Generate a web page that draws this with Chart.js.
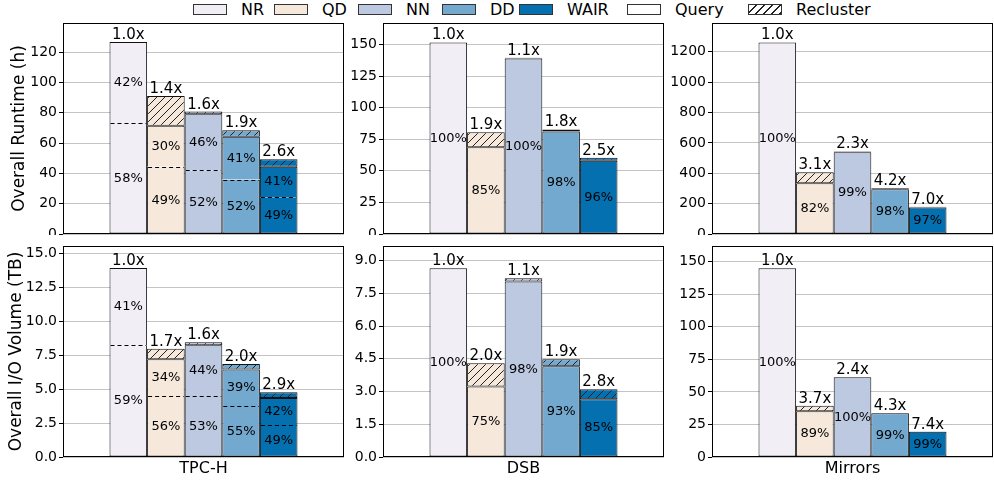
<!DOCTYPE html>
<html>
<head>
<meta charset="utf-8">
<script src="https://cdn.jsdelivr.net/npm/chart.js@4.4.1/dist/chart.umd.min.js"></script>
<style>
  body { margin: 0; background: #fff; font-family: 'DejaVu Sans', sans-serif; }
  #wrap { position: relative; width: 994px; height: 483px; overflow: hidden; }
  #wrap canvas { position: absolute; }
  .lg-box { position: absolute; top: 4px; width: 34px; height: 11px; box-sizing: border-box; border: 1px solid #333; }
  .lg-txt { position: absolute; top: 0; font-size: 16px; line-height: 20px; color: #000; white-space: nowrap; }
</style>
</head>
<body>
<div id="wrap"></div>
<script>
const methods = ['NR', 'QD', 'NN', 'DD', 'WAIR'];
const colors = ['#f1eef6', '#f6e9dc', '#bdc9e1', '#74a9cf', '#0570b0'];
const workloads = ['TPC-H', 'DSB', 'Mirrors'];
const rowTitles = ['Overall Runtime (h)', 'Overall I/O Volume (TB)'];

// runtime (h) - TPC-H query is split in two parts (dashed line)
const rtTpchQ1 = [73.3, 44.3, 42.0, 35.9, 24.2];
const rtTpchQ2 = [53.3, 27.1, 37.0, 28.2, 20.2];
const rtTpchRe = [0, 19.6, 1.8, 4.4, 4.9];
const rtTpchP1 = ['58%', '49%', '52%', '52%', '49%'];
const rtTpchP2 = ['42%', '30%', '46%', '41%', '41%'];
const rtTpchSp = ['1.0x', '1.4x', '1.6x', '1.9x', '2.6x'];

const rtDsbQ = [151.6, 68.7, 139.0, 81.2, 57.9];
const rtDsbRe = [0, 11.9, 0.5, 1.6, 2.4];
const rtDsbP = ['100%', '85%', '100%', '98%', '96%'];
const rtDsbSp = ['1.0x', '1.9x', '1.1x', '1.8x', '2.5x'];

const rtMirQ = [1262, 334, 539, 295, 175];
const rtMirRe = [0, 73, 5, 6, 5];
const rtMirP = ['100%', '82%', '99%', '98%', '97%'];
const rtMirSp = ['1.0x', '3.1x', '2.3x', '4.2x', '7.0x'];

// I/O volume (TB)
const ioTpchQ1 = [8.24, 4.49, 4.49, 3.75, 2.35];
const ioTpchQ2 = [5.68, 2.72, 3.75, 2.70, 2.00];
const ioTpchRe = [0, 0.76, 0.22, 0.41, 0.43];
const ioTpchP1 = ['59%', '56%', '53%', '55%', '49%'];
const ioTpchP2 = ['41%', '34%', '44%', '39%', '42%'];
const ioTpchSp = ['1.0x', '1.7x', '1.6x', '2.0x', '2.9x'];

const ioDsbQ = [8.65, 3.23, 8.04, 4.16, 2.65];
const ioDsbRe = [0, 1.07, 0.15, 0.32, 0.46];
const ioDsbP = ['100%', '75%', '98%', '93%', '85%'];
const ioDsbSp = ['1.0x', '2.0x', '1.1x', '1.9x', '2.8x'];

const ioMirQ = [144.9, 35.2, 61.2, 33.5, 19.3];
const ioMirRe = [0, 4.2, 0.1, 0.3, 0.2];
const ioMirP = ['100%', '89%', '100%', '99%', '99%'];
const ioMirSp = ['1.0x', '3.7x', '2.4x', '4.3x', '7.4x'];

// axis limits / ticks per panel
const yMax = [139.2, 167, 1390, 15.55, 9.67, 162];
const yStep = [20, 25, 200, 2.5, 1.5, 25];
const yDec = [0, 0, 0, 1, 1, 0];

const panels = [
  {row: 0, col: 0, q1: rtTpchQ1, q2: rtTpchQ2, re: rtTpchRe, p1: rtTpchP1, p2: rtTpchP2, sp: rtTpchSp},
  {row: 0, col: 1, q1: rtDsbQ, q2: null, re: rtDsbRe, p1: rtDsbP, p2: null, sp: rtDsbSp},
  {row: 0, col: 2, q1: rtMirQ, q2: null, re: rtMirRe, p1: rtMirP, p2: null, sp: rtMirSp},
  {row: 1, col: 0, q1: ioTpchQ1, q2: ioTpchQ2, re: ioTpchRe, p1: ioTpchP1, p2: ioTpchP2, sp: ioTpchSp},
  {row: 1, col: 1, q1: ioDsbQ, q2: null, re: ioDsbRe, p1: ioDsbP, p2: null, sp: ioDsbSp},
  {row: 1, col: 2, q1: ioMirQ, q2: null, re: ioMirRe, p1: ioMirP, p2: null, sp: ioMirSp},
];

const colLeft = [63, 383, 712];
const rowTop = [23, 246];
const plotW = 281, plotH = 211;
const edge = '#111';

Chart.defaults.font.family = "'DejaVu Sans', sans-serif";
Chart.defaults.color = '#000';

function hatch(color) {
  const c = document.createElement('canvas');
  c.width = 8; c.height = 8;
  const g = c.getContext('2d');
  g.fillStyle = color;
  g.fillRect(0, 0, 8, 8);
  g.strokeStyle = '#222';
  g.lineWidth = 1;
  g.beginPath();
  g.moveTo(0, 8); g.lineTo(8, 0);
  g.moveTo(-4, 4); g.lineTo(4, -4);
  g.moveTo(4, 12); g.lineTo(12, 4);
  g.stroke();
  return g.createPattern(c, 'repeat');
}

// legend
const wrap = document.getElementById('wrap');
const lgBox = [193, 274, 358, 442, 519, 627, 748];
const lgText = methods.concat(['Query', 'Recluster']);
lgText.forEach((t, i) => {
  const b = document.createElement('div');
  b.className = 'lg-box';
  b.style.left = lgBox[i] + 'px';
  if (i < 5) b.style.background = colors[i];
  else if (i === 5) b.style.background = '#fff';
  else b.style.background = 'repeating-linear-gradient(135deg, #fff 0 4.6px, #222 4.6px 5.66px)';
  wrap.appendChild(b);
  const s = document.createElement('div');
  s.className = 'lg-txt';
  s.style.left = (lgBox[i] + 48) + 'px';
  s.textContent = t;
  wrap.appendChild(s);
});

function labelPlugin(p, idx) {
  return {
    id: 'barText',
    afterDatasetsDraw(chart) {
      const ctx = chart.ctx, y = chart.scales.y;
      ctx.save();
      methods.forEach((m, i) => {
        const bar = chart.getDatasetMeta(idx[i]).data[0];
        const x0 = bar.x - bar.width / 2, x1 = bar.x + bar.width / 2;
        const q1 = p.q1[i], q2 = p.q2 ? p.q2[i] : 0, re = p.re[i] || 0;
        if (p.q2) {
          ctx.setLineDash([4, 3]);
          ctx.strokeStyle = '#000';
          ctx.lineWidth = 1;
          const yy = Math.round(y.getPixelForValue(q1)) + 0.5;
          ctx.beginPath(); ctx.moveTo(x0 + 1, yy); ctx.lineTo(x1 - 1, yy); ctx.stroke();
          ctx.setLineDash([]);
        }
        ctx.fillStyle = '#000';
        ctx.textAlign = 'center';
        ctx.textBaseline = 'middle';
        ctx.font = "13px 'DejaVu Sans'";
        ctx.fillText(p.p1[i], bar.x, y.getPixelForValue(q1 / 2));
        if (p.q2) ctx.fillText(p.p2[i], bar.x, y.getPixelForValue(q1 + q2 / 2));
        ctx.font = "15px 'DejaVu Sans'";
        ctx.textBaseline = 'alphabetic';
        ctx.fillText(p.sp[i], bar.x, y.getPixelForValue(q1 + q2 + re) - 3);
      });
      ctx.restore();
    },
    afterDraw(chart) {
      const a = chart.chartArea, ctx = chart.ctx;
      ctx.save();
      ctx.strokeStyle = '#000';
      ctx.lineWidth = 1;
      ctx.strokeRect(a.left + 0.5, a.top + 0.5, a.right - a.left - 1, a.bottom - a.top - 1);
      ctx.restore();
    }
  };
}

panels.forEach((p, k) => {
  const yw = p.col === 0 ? 63 : 50;
  const xh = p.row === 1 ? 26 : 1;
  const cv = document.createElement('canvas');
  cv.width = yw + plotW + 1;
  cv.height = 1 + plotH + xh;
  cv.style.left = (colLeft[p.col] - yw) + 'px';
  cv.style.top = (rowTop[p.row] - 1) + 'px';
  wrap.appendChild(cv);

  const datasets = [];
  const idx = [];
  methods.forEach((m, i) => {
    idx.push(datasets.length);
    datasets.push({
      label: m + ' query', data: [p.q1[i]], stack: m,
      backgroundColor: colors[i], borderColor: edge, borderSkipped: false,
      borderWidth: p.q2 ? {top: 0, left: 1, right: 1, bottom: 1} : 1
    });
    if (p.q2) {
      datasets.push({
        label: m + ' query 2', data: [p.q2[i]], stack: m,
        backgroundColor: colors[i], borderColor: edge, borderSkipped: false,
        borderWidth: {top: 1, left: 1, right: 1, bottom: 0}
      });
    }
    datasets.push({
      label: m + ' recluster', data: [p.re[i] || null], stack: m,
      backgroundColor: hatch(colors[i]), borderColor: edge, borderSkipped: false,
      borderWidth: 1
    });
  });

  new Chart(cv, {
    type: 'bar',
    data: {labels: [workloads[p.col]], datasets},
    options: {
      responsive: false,
      animation: false,
      events: [],
      layout: {padding: {top: 1, right: 1, left: 0, bottom: 0}},
      datasets: {bar: {categoryPercentage: 0.669, barPercentage: 1.0}},
      plugins: {legend: {display: false}, tooltip: {enabled: false}},
      scales: {
        x: {
          stacked: true,
          ticks: {display: p.row === 1, font: {size: 16}, color: '#000', padding: 2},
          grid: {display: false, drawTicks: false},
          border: {display: false},
          afterFit: a => { a.height = xh; a.paddingLeft = 0; a.paddingRight = 0; }
        },
        y: {
          stacked: true,
          min: 0,
          max: yMax[k],
          ticks: {font: {size: 14}, color: '#000', padding: 2,
                  callback: v => v.toFixed(yDec[k])},
          afterBuildTicks: a => {
            const t = [];
            for (let v = 0; v <= yMax[k] + 1e-9; v += yStep[k]) t.push({value: Math.round(v * 100) / 100});
            a.ticks = t;
          },
          grid: {color: '#c4c4c4', lineWidth: 1, drawTicks: true, tickLength: 4, tickColor: '#000'},
          border: {display: false},
          title: {display: p.col === 0, text: rowTitles[p.row], font: {size: 17}, color: '#000',
                  padding: {top: p.row === 0 ? 9 : 6, bottom: 0}},
          afterFit: a => { a.width = yw; a.paddingTop = 0; a.paddingBottom = 0; }
        }
      }
    },
    plugins: [labelPlugin(p, idx)]
  });
});
</script>
</body>
</html>
